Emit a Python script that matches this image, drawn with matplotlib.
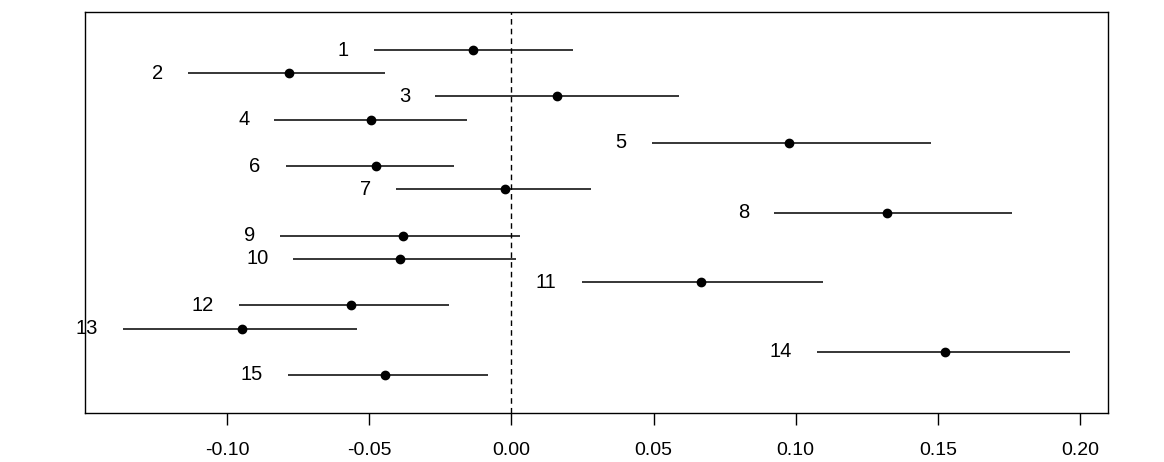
import matplotlib
matplotlib.use("Agg")
import matplotlib.pyplot as plt
import numpy as np

labels = ["1", "2", "3", "4", "5", "6", "7", "8", "9", "10", "11", "12", "13", "14", "15"]
estimate = [-0.0136, -0.0781, 0.0160, -0.0495, 0.0976, -0.0476, -0.0024, 0.1323,
            -0.0382, -0.0393, 0.0667, -0.0564, -0.0949, 0.1526, -0.0444]
lower = [-0.0485, -0.1138, -0.0269, -0.0834, 0.0494, -0.0794, -0.0405, 0.0925,
         -0.0815, -0.0767, 0.0247, -0.0958, -0.1367, 0.1076, -0.0786]
upper = [0.0218, -0.0444, 0.0589, -0.0156, 0.1476, -0.0201, 0.0280, 0.1762,
         0.0030, 0.0016, 0.1097, -0.0218, -0.0544, 0.1966, -0.0081]
xticks = [-0.10, -0.05, 0.00, 0.05, 0.10, 0.15, 0.20]

plt.rcParams['font.family'] = ['Liberation Sans', 'DejaVu Sans']

fig = plt.figure(figsize=(11.64, 4.62), dpi=100)
ax = fig.add_axes([0.073, 0.106, 0.879, 0.868])

rows = np.arange(1, len(labels) + 1)
ax.axvline(0, color='black', lw=1, linestyle=(0, (4, 3)))
for r, lo, hi, est, lab in zip(rows, lower, upper, estimate, labels):
    ax.plot([lo, hi], [r, r], color='black', lw=1.1, solid_capstyle='butt')
    ax.plot(est, r, 'o', color='black', markersize=6)
    ax.annotate(lab, xy=(lo, r), xytext=(-18, 0), textcoords='offset points',
                ha='right', va='center', fontsize=14.5)

xmin = min(lower); xmax = max(upper)
pad = (xmax - xmin) * 0.04
ax.set_xlim(xmin - pad, xmax + pad)
ax.set_ylim(16 + 0.64, -0.64)
ax.set_yticks([])
ax.set_xticks(xticks)
ax.set_xticklabels([f"{t:.2f}" for t in xticks])
ax.tick_params(axis='x', length=8.6, width=1, labelsize=14, pad=12)
for s in ax.spines.values():
    s.set_linewidth(1)

fig.savefig("out.png", dpi=100)
